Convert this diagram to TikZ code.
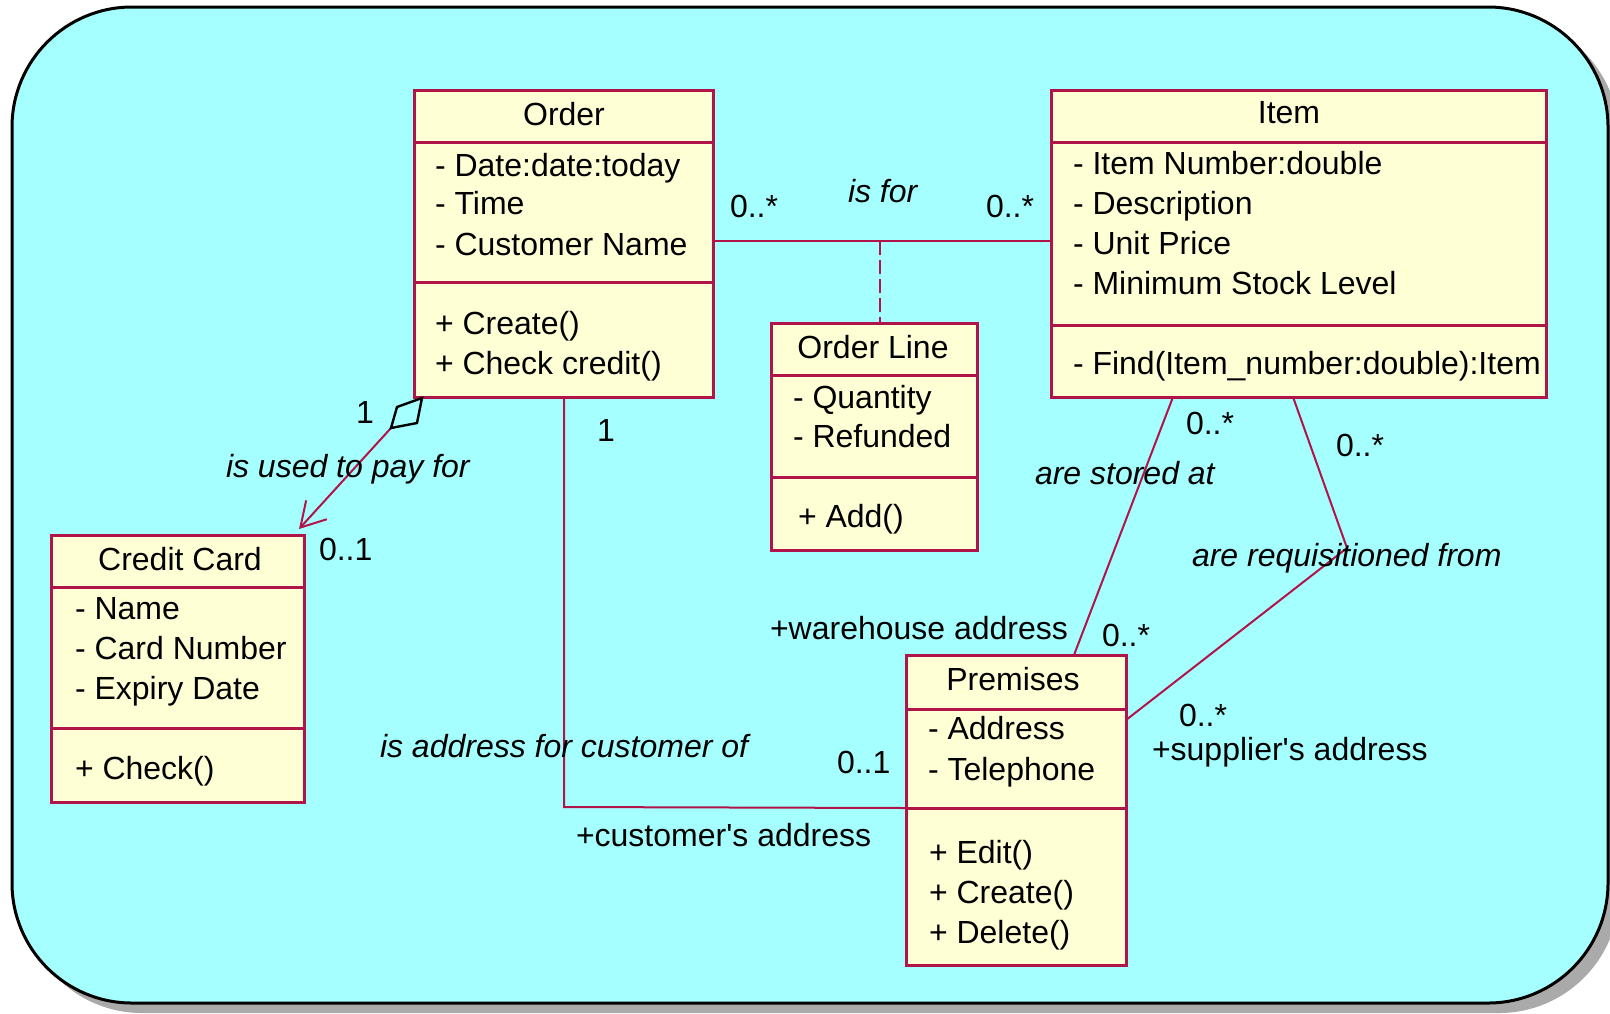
\documentclass[tikz,border=0pt]{standalone}
\usepackage{fontspec}
\setmainfont{Liberation Sans}
\usetikzlibrary{arrows.meta,calc}
\definecolor{bgc}{RGB}{166,255,255}
\definecolor{boxc}{RGB}{255,255,213}
\definecolor{lnc}{RGB}{176,20,72}
\definecolor{shc}{RGB}{170,170,170}
\tikzset{
  cls/.style={draw=lnc, line width=1.5pt, fill=boxc, anchor=north west, inner sep=0pt, outer sep=0pt},
  sepline/.style={draw=lnc, line width=1.5pt},
  txt/.style={anchor=base west, inner sep=0pt, outer sep=0pt, font=\fontsize{16pt}{19pt}\selectfont},
  ctxt/.style={txt, anchor=base},
  itxt/.style={txt, font=\fontsize{16pt}{19pt}\selectfont\itshape},
  conn/.style={draw=lnc, line width=1pt},
}
\begin{document}
\begin{tikzpicture}[x=0.5pt,y=-0.5pt]
\useasboundingbox (0,0) rectangle (1610,1013);
% background frame
\fill[shc, rounded corners=60pt] (22,17) rectangle (1619,1013);
\draw[black, line width=1.5pt, fill=bgc, rounded corners=60pt] (12,7) rectangle (1608,1003);

% class boxes
\node[cls, minimum width=149.5pt, minimum height=153.5pt] (order) at (414,90) {};
\node[cls, minimum width=247.5pt, minimum height=153.5pt] (item) at (1051,90) {};
\node[cls, minimum width=103pt, minimum height=113.5pt] (oline) at (771,323) {};
\node[cls, minimum width=126.5pt, minimum height=133.5pt] (cc) at (51,535) {};
\node[cls, minimum width=110pt, minimum height=155pt] (prem) at (906,655) {};

% separators
\draw[sepline] (order.west |- 0,142) -- (order.east |- 0,142);
\draw[sepline] (order.west |- 0,282) -- (order.east |- 0,282);
\draw[sepline] (item.west |- 0,142) -- (item.east |- 0,142);
\draw[sepline] (item.west |- 0,325) -- (item.east |- 0,325);
\draw[sepline] (oline.west |- 0,375) -- (oline.east |- 0,375);
\draw[sepline] (oline.west |- 0,477) -- (oline.east |- 0,477);
\draw[sepline] (cc.west |- 0,587) -- (cc.east |- 0,587);
\draw[sepline] (cc.west |- 0,728) -- (cc.east |- 0,728);
\draw[sepline] (prem.west |- 0,709) -- (prem.east |- 0,709);
\draw[sepline] (prem.west |- 0,808) -- (prem.east |- 0,808);

% Order texts
\node[ctxt] (orderT) at (564,125) {Order};
\node[txt] (orderA1) at (435,176) {- Date:date:today};
\node[txt] (orderA2) at (435,214) {- Time};
\node[txt] (orderA3) at (435,255) {- Customer Name};
\node[txt] (orderO1) at (435,334) {+ Create()};
\node[txt] (orderO2) at (435,374) {+ Check credit()};

% Item texts
\node[ctxt] (itemT) at (1289,123) {Item};
\node[txt] (itemA1) at (1073,174) {- Item Number:double};
\node[txt] (itemA2) at (1073,214) {- Description};
\node[txt] (itemA3) at (1073,254) {- Unit Price};
\node[txt] (itemA4) at (1073,294) {- Minimum Stock Level};
\node[txt] (itemO1) at (1073,374) {- Find(Item\_number:double):Item};

% Order Line texts
\node[ctxt] (olineT) at (873,358) {Order Line};
\node[txt] (olineA1) at (793,408) {- Quantity};
\node[txt] (olineA2) at (793,447) {- Refunded};
\node[txt] (olineO1) at (798,527) {+ Add()};

% Credit Card texts
\node[ctxt] (ccT) at (180,570) {Credit Card};
\node[txt] (ccA1) at (75,619) {- Name};
\node[txt] (ccA2) at (75,659) {- Card Number};
\node[txt] (ccA3) at (75,699) {- Expiry Date};
\node[txt] (ccO1) at (75,779) {+ Check()};

% Premises texts
\node[ctxt] (premT) at (1013,690) {Premises};
\node[txt] (premA1) at (928,739) {- Address};
\node[txt] (premA2) at (928,780) {- Telephone};
\node[txt] (premO1) at (929,863) {+ Edit()};
\node[txt] (premO2) at (929,903) {+ Create()};
\node[txt] (premO3) at (929,943) {+ Delete()};

% connectors
\draw[conn] (order.east |- 0,241) -- (item.west |- 0,241);
\coordinate (isforMid) at (880,241);
\draw[conn, dash pattern=on 7pt off 2.5pt] (isforMid) -- (isforMid |- oline.north);

\draw[conn] ([xshift=75pt]order.south west) -- ([xshift=75pt,yshift=-205pt]order.south west) -- ([yshift=-76.5pt]prem.north west);

\draw[conn] ([xshift=61pt]item.south west) -- ([xshift=84pt]prem.north west);
\coordinate (reqBend) at (1347,548);
\draw[conn] ([xshift=121pt]item.south west) -- (reqBend) -- ([yshift=-32.5pt]prem.north east);

\coordinate (dtip) at ([shift={(8,1)}]order.south west);
\coordinate (dend) at ([shift={(-31,30)}]dtip);
\draw[conn, -{Straight Barb[length=12pt,width=14pt]}] (dend) -- ([shift={(-5,-6)}]cc.north east);
\draw[black, line width=1.2pt, fill=bgc, line join=miter] (dtip) -- ++(-25,9) -- ++(-6,21) -- ++(26,-5) -- cycle;

% labels
\node[txt] (m1) at (730,217) {0..*};
\node[itxt] (l1) at (848,202) {is for};
\node[txt] (m2) at (986,217) {0..*};
\node[ctxt] (m3) at (606,441) {1};
\node[txt] (m4) at (356,423) {1};
\node[itxt] (l2) at (226,477) {is used to pay for};
\node[txt] (m5) at (319,560) {0..1};
\node[itxt] (l3) at (380,757) {is address for customer of};
\node[txt] (r1) at (576,846) {+customer\textquotesingle s address};
\node[txt] (m6) at (837,773) {0..1};
\node[txt] (r2) at (770,639) {+warehouse address};
\node[txt] (m7) at (1102,646) {0..*};
\node[txt] (m8) at (1186,434) {0..*};
\node[itxt] (l4) at (1035,484) {are stored at};
\node[txt] (m9) at (1336,456) {0..*};
\node[itxt] (l5) at (1192,566) {are requisitioned from};
\node[txt] (m10) at (1179,726) {0..*};
\node[txt] (r3) at (1152,760) {+supplier\textquotesingle s address};
\end{tikzpicture}
\end{document}
